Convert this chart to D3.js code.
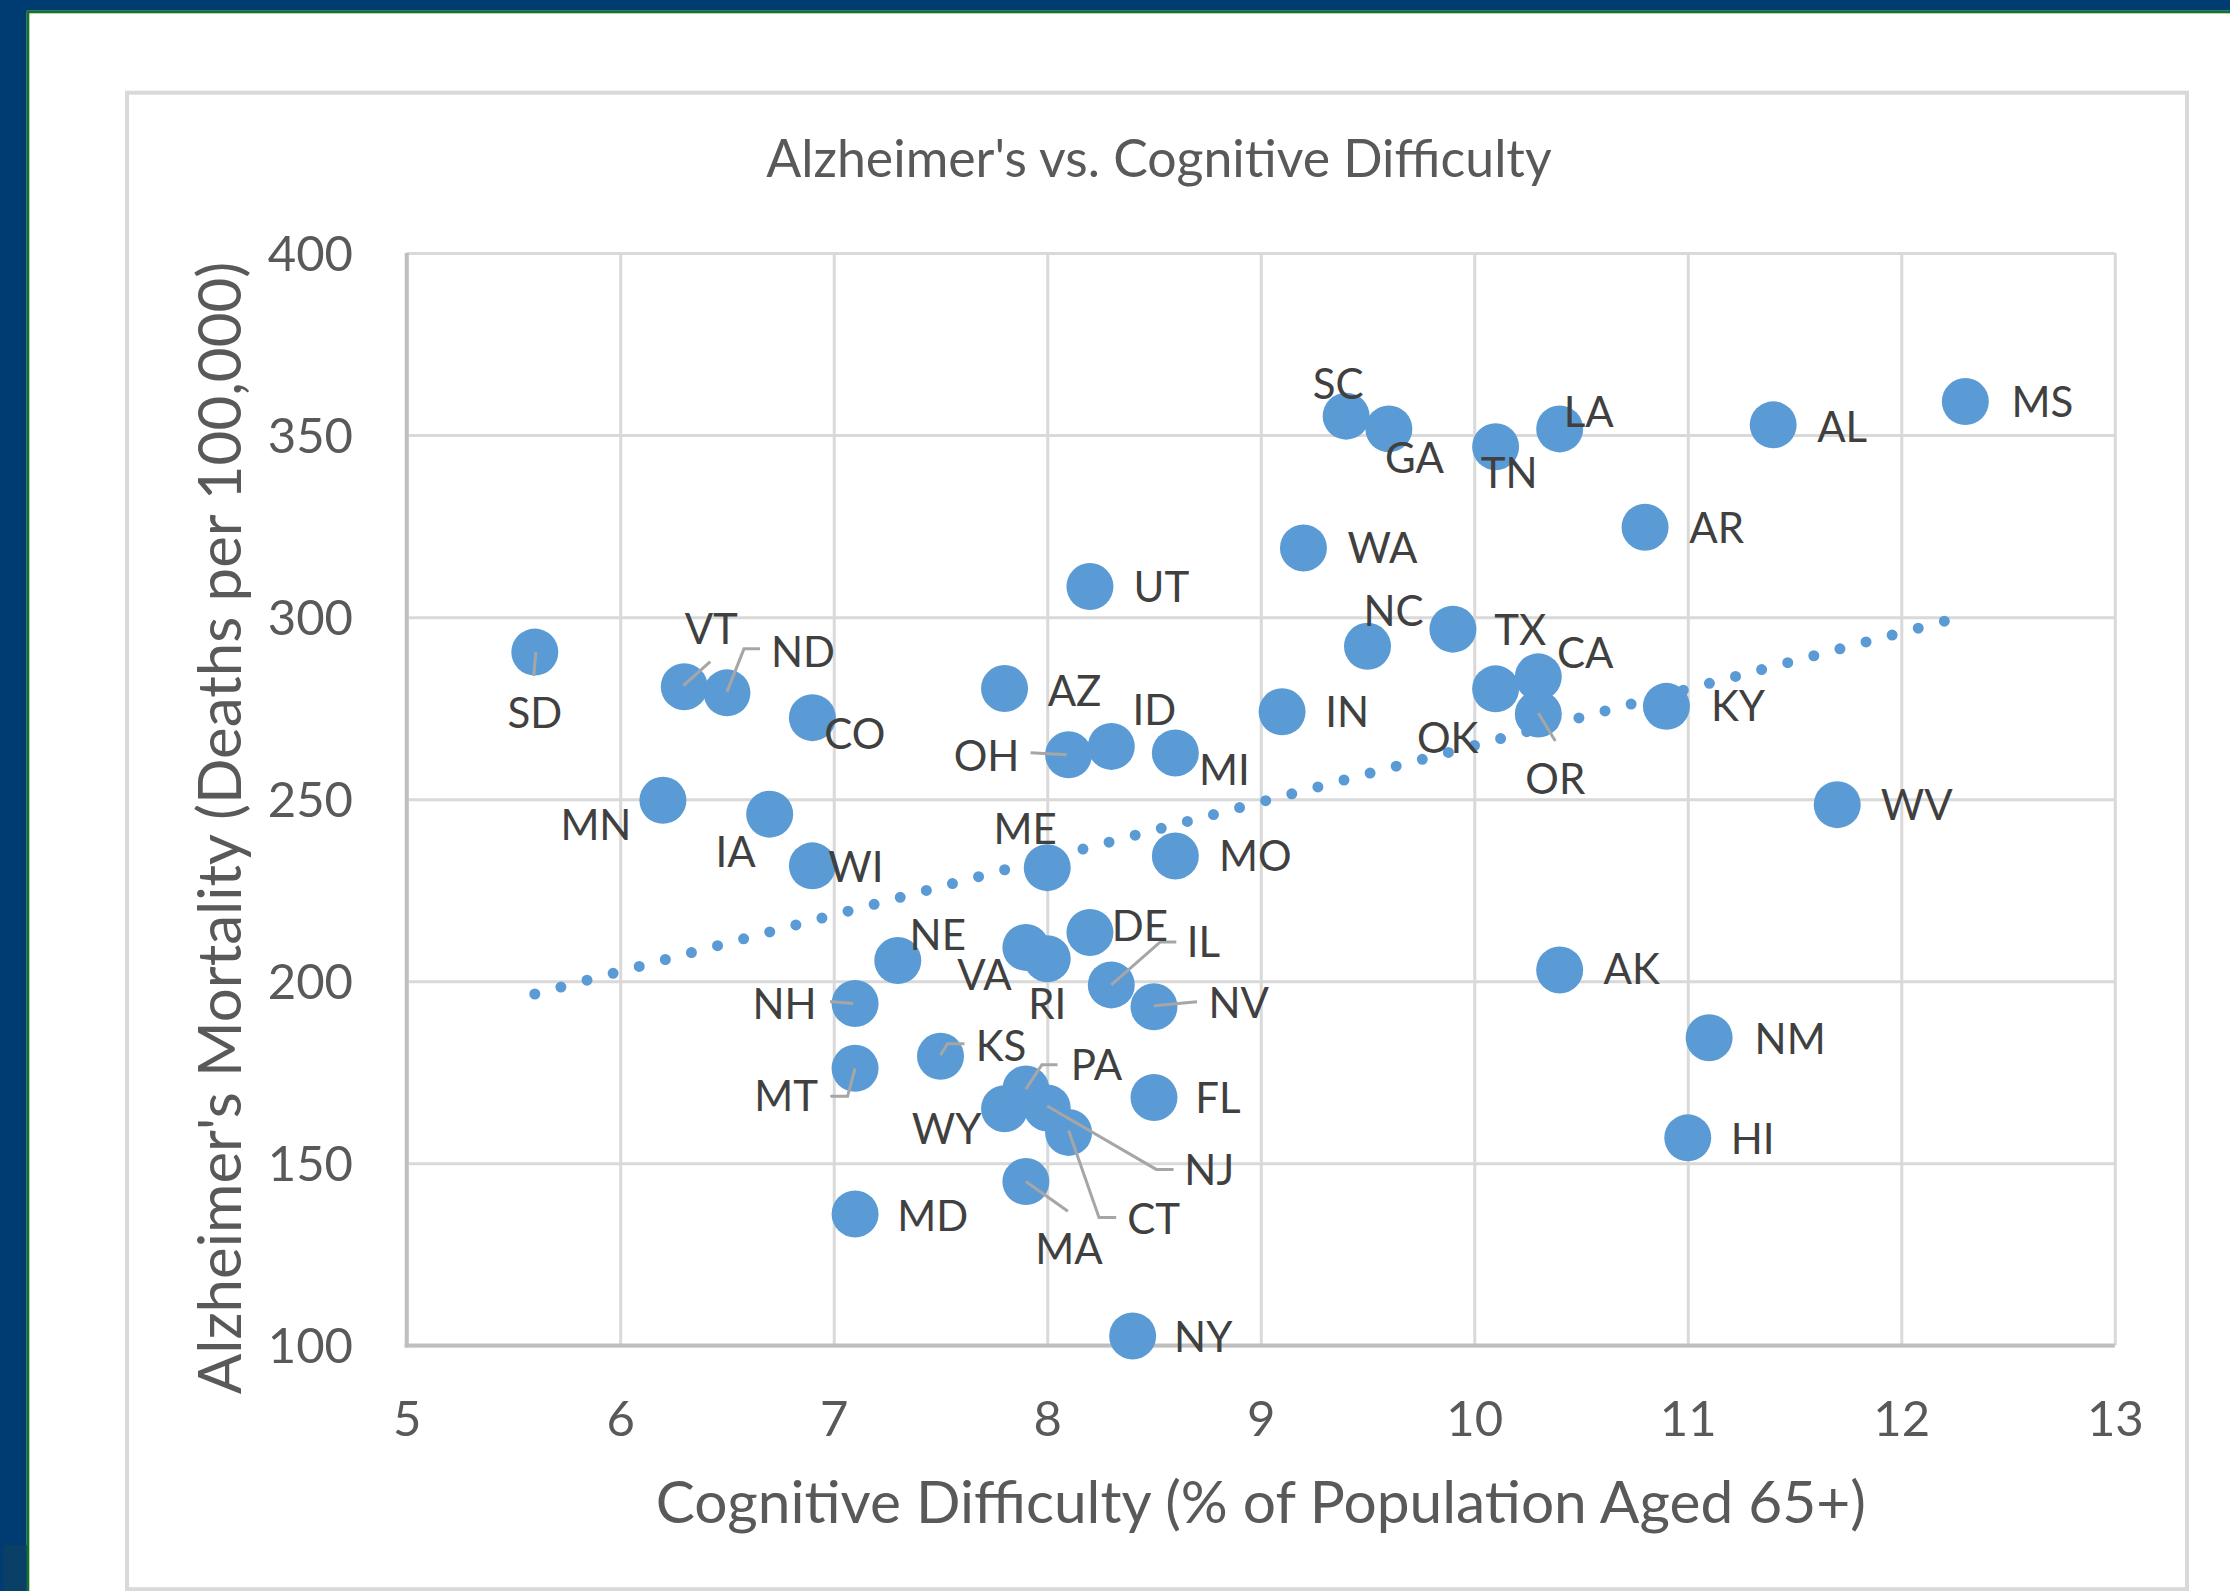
<!DOCTYPE html>
<html>
<head>
<meta charset="utf-8">
<script src="https://cdn.jsdelivr.net/npm/d3@7"></script>
<style>
  body { margin: 0; background: #fff; }
  svg { display: block; }
</style>
</head>
<body>
<div id="chart"></div>
<script>
/**
 * DATA
 * */
const states = ["SD","VT","ND","CO","MN","IA","WI","AZ","OH","ID","MI","UT","IN","WA","SC","GA","TN","LA","AL","MS",
  "AR","NC","TX","OK","CA","OR","KY","WV","ME","MO","NE","VA","RI","DE","IL","NV","NH","KS","MT","PA",
  "WY","NJ","CT","FL","MA","MD","NY","AK","NM","HI"];

// cognitive difficulty, % of population aged 65+
const cognitive = [5.6,6.3,6.5,6.9,6.2,6.7,6.9,7.8,8.1,8.3,8.6,8.2,9.1,9.2,9.4,9.6,10.1,10.4,11.4,12.3,
  10.8,9.5,9.9,10.1,10.3,10.3,10.9,11.7,8.0,8.6,7.3,7.9,8.0,8.2,8.3,8.5,7.1,7.5,7.1,7.9,
  7.8,8.0,8.1,8.5,7.9,7.1,8.4,10.4,11.1,11.0];

// alzheimer's deaths per 100,000
const mortality = [290.4,280.9,279.2,272.4,249.7,245.9,231.7,280.4,262.2,264.5,262.7,308.4,274.0,319.0,355.2,351.7,346.8,351.7,352.8,359.2,
  324.7,292.0,296.7,280.3,283.6,273.4,275.5,248.5,231.2,234.4,205.7,209.3,206.2,213.4,199.0,193.0,193.9,179.4,176.1,170.4,
  165.0,165.2,158.5,168.1,145.0,136.1,102.6,203.1,184.5,157.0];

// linear trendline ends
const trendX = [5.6, 12.3];
const trendY = [196.5, 300.4];

const xTicks = [5, 6, 7, 8, 9, 10, 11, 12, 13];
const yTicks = [100, 150, 200, 250, 300, 350, 400];

/**
 * LAYOUT
 * */
const width = 2230, height = 1591;
const plot = { left: 406.7, right: 2114.8, top: 253, bottom: 1345.4 };

// where each label sits, relative to its marker (cap-centre, px)
const labelOffsets = {
  SD:[0,60.5], VT:[27,-58], ND:[76,-41], CO:[42.5,16.5], MN:[-67,25], IA:[-34,38], WI:[43.6,1],
  AZ:[70,2.5], OH:[-82,1], ID:[43,-36], MI:[49,17], UT:[71.5,0.6], IN:[65,0.5], WA:[79,0],
  SC:[-8,-32.5], GA:[25.7,29.5], TN:[13.5,26], LA:[29,-16.5], AL:[69,2], MS:[77,0.7], AR:[71.6,1.2],
  NC:[26,-35.4], TX:[67.4,1.2], OK:[-48,48.6], CA:[47,-23.4], OR:[17,65], KY:[71.6,0], WV:[79.6,0],
  ME:[-22,-39], MO:[80,0], NE:[40,-26], VA:[-41.4,28], RI:[0,45.6], DE:[50,-7], IL:[92,-43],
  NV:[84.7,-3.4], NH:[-70.6,0], KS:[60.6,-10.7], MT:[-69,28], PA:[70.6,-24], WY:[-58,20.5],
  NJ:[162,62], CT:[85,87], FL:[64,0.7], MA:[43,67.5], MD:[77.7,1.6], NY:[70.6,1], AK:[72,-0.7],
  NM:[81,0.8], HI:[64.8,1]
};

// leader lines, relative to marker centre
const leaders = {
  SD:[[1,0],[-1,24]], VT:[[-1,-1],[26,-25]], ND:[[0,-1],[17,-44],[33,-44]], OH:[[-2,0],[-38,-2]],
  OR:[[0,-1],[17,27]], IL:[[0,0],[49,-43],[65,-43]], NV:[[0,-1],[43,-5]], NH:[[-2,0],[-25,-2]],
  KS:[[0,-1],[7,-12.6],[24,-12.6]], MT:[[0,0],[-7.5,28],[-24.7,28]], PA:[[0,0],[16,-24.3],[31.6,-24.3]],
  NJ:[[0,-2],[109,61.4],[126.3,61.4]], CT:[[0,-2],[30.4,85.2],[47.6,85.2]], MA:[[0,0],[42,29.8]]
};

const font = "Lato, 'Open Sans', sans-serif";
const blue = "#5B9BD5";

const svg = d3.select("#chart").append("svg")
  .attr("width", width)
  .attr("height", height);

// slide frame
svg.append("rect").attr("width", width).attr("height", height).attr("fill", "#fff");
svg.append("rect").attr("x", 0).attr("y", 0).attr("width", width).attr("height", 10.7).attr("fill", "#003B71");
svg.append("rect").attr("x", 0).attr("y", 0).attr("width", 26.7).attr("height", height).attr("fill", "#003B71");
svg.append("rect").attr("x", 26.7).attr("y", 10.7).attr("width", width).attr("height", 2.6).attr("fill", "#137322");
svg.append("rect").attr("x", 26.7).attr("y", 10.7).attr("width", 2.6).attr("height", height).attr("fill", "#137322");
svg.append("rect").attr("x", 3.3).attr("y", 1545).attr("width", 23.4).attr("height", 46).attr("fill", "#0A3F66");

// chart area border
svg.append("rect")
  .attr("x", 127).attr("y", 92.7)
  .attr("width", 2060).attr("height", 1496.5)
  .attr("fill", "none").attr("stroke", "#D9D9D9").attr("stroke-width", 4);

// scales
const x = d3.scaleLinear().domain([5, 13]).range([plot.left, plot.right]);
const y = d3.scaleLinear().domain([100, 400]).range([plot.bottom, plot.top]);

// gridlines + tick labels via axes
const yAxis = svg.append("g")
  .attr("transform", `translate(${plot.left},0)`)
  .call(d3.axisLeft(y).tickValues(yTicks).tickSize(-(plot.right - plot.left)).tickFormat(d3.format("d")));
const xAxis = svg.append("g")
  .attr("transform", `translate(0,${plot.bottom})`)
  .call(d3.axisBottom(x).tickValues(xTicks).tickSize(-(plot.bottom - plot.top)).tickFormat(d3.format("d")));

[yAxis, xAxis].forEach(ax => {
  ax.attr("font-family", font).attr("font-size", 49);
  ax.select(".domain").remove();
  ax.selectAll(".tick line").attr("stroke", "#D9D9D9").attr("stroke-width", 3);
  ax.selectAll(".tick text").attr("fill", "#595959");
});
yAxis.selectAll(".tick text").attr("x", -(plot.left - 353)).attr("dy", null).attr("y", 17.5);
xAxis.selectAll(".tick text").attr("dy", null).attr("y", 1436 - plot.bottom);

// axis lines
svg.append("line").attr("x1", plot.left).attr("x2", plot.left).attr("y1", plot.top).attr("y2", plot.bottom + 2)
  .attr("stroke", "#BFBFBF").attr("stroke-width", 4);
svg.append("line").attr("x1", plot.left - 2).attr("x2", plot.right).attr("y1", plot.bottom).attr("y2", plot.bottom)
  .attr("stroke", "#BFBFBF").attr("stroke-width", 4);

// markers
const pts = states.map((s, i) => ({ s, cx: x(cognitive[i]), cy: y(mortality[i]) }));

svg.append("g").selectAll("circle")
  .data(pts)
  .join("circle")
  .attr("cx", d => d.cx)
  .attr("cy", d => d.cy)
  .attr("r", 23.5)
  .attr("fill", blue);

// trendline (round dots)
svg.append("path")
  .attr("d", d3.line()(trendX.map((v, i) => [x(v), y(trendY[i])])))
  .attr("fill", "none")
  .attr("stroke", blue)
  .attr("stroke-width", 11)
  .attr("stroke-linecap", "round")
  .attr("stroke-dasharray", "0 27");

// leader lines
svg.append("g").selectAll("path")
  .data(pts.filter(d => leaders[d.s]))
  .join("path")
  .attr("d", d => d3.line()(leaders[d.s].map(p => [d.cx + p[0], d.cy + p[1]])))
  .attr("fill", "none")
  .attr("stroke", "#A6A6A6")
  .attr("stroke-width", 3);

// data labels
const labelSize = 42;
svg.append("g").selectAll("text")
  .data(pts)
  .join("text")
  .attr("x", d => d.cx + labelOffsets[d.s][0])
  .attr("y", d => d.cy + labelOffsets[d.s][1] + labelSize * 0.358)
  .attr("text-anchor", "middle")
  .attr("font-family", font)
  .attr("font-size", labelSize)
  .attr("fill", "#404040")
  .text(d => d.s);

// titles
svg.append("text")
  .attr("x", 1159).attr("y", 176.7)
  .attr("text-anchor", "middle")
  .attr("font-family", font).attr("font-size", 51.8).attr("fill", "#595959")
  .text("Alzheimer's vs. Cognitive Difficulty");

svg.append("text")
  .attr("x", (plot.left + plot.right) / 2).attr("y", 1523)
  .attr("text-anchor", "middle")
  .attr("font-family", font).attr("font-size", 58.6).attr("fill", "#595959")
  .text("Cognitive Difficulty (% of Population Aged 65+)");

svg.append("text")
  .attr("transform", "translate(241,828) rotate(-90)")
  .attr("text-anchor", "middle")
  .attr("font-family", font).attr("font-size", 60).attr("fill", "#595959")
  .text("Alzheimer's Mortality (Deaths per 100,000)");
</script>
</body>
</html>
